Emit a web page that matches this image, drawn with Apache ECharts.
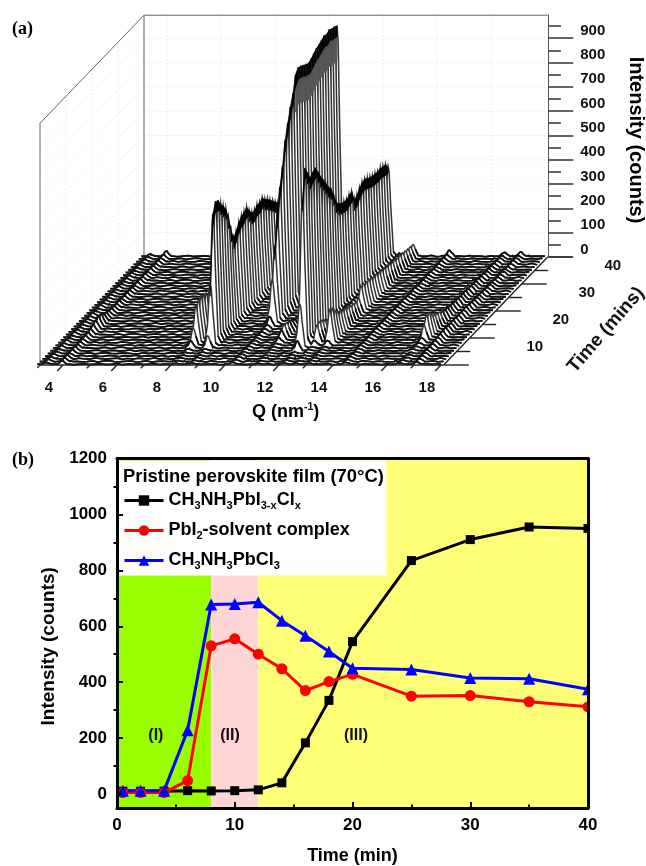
<!DOCTYPE html>
<html><head><meta charset="utf-8">
<style>html,body{margin:0;padding:0;background:#fff}#c{width:646px;height:866px}#c canvas{filter:blur(0.45px)}</style>
<script src="https://cdn.jsdelivr.net/npm/echarts@6/dist/echarts.min.js"></script>
</head><body><div id="c"></div>
<script>
// ---------- panel (b) data ----------
const timeB = [0.5,2,4,6,8,10,12,14,16,18,20,25,30,35,40];
const perovskite = [10,10,10,12,11,12,15,40,183,335,545,835,910,955,950];
const pbi2Complex = [5,5,5,48,530,555,500,448,370,402,428,350,352,330,312];
const pbcl3 = [12,12,12,228,678,680,686,620,566,510,450,445,415,412,375];
const yTicksB = [0,200,400,600,800,1000,1200];
const yMinorB = [100,300,500,700,900,1100];
const phaseLabels = ['(I)','(II)','(III)'];
const phaseLabelX = [3.3,9.6,20.3];
const phaseEdges = [0,8,12,40];
// ---------- panel (a) data: one row per minute, intensity at each ridge ----------
const rowTimes = [40,39,38,37,36,35,34,33,32,31,30,29,28,27,26,25,24,23,22,21,20,19,18,17,16,15,14,13,12,11,10,9,8,7,6,5,4,3,2,1,0];
const ridgeQ = [3.37,3.96,8.15,8.78,10.3,11.22,12.19,12.63,13.11,14.45,16.5,17.1];
const ridgeL0=[8,9,8,10,9,8,10,9,11,9,8,10,9,8,9,10,8,9,11,9,8,10,9,8,9,10,9,8,10,9,8,9,10,9,8,9,10,8,9,10,9];
const ridgeL1=[14,15,16,14,15,16,15,14,16,17,18,22,28,36,40,38,30,24,20,18,16,15,16,15,14,15,16,15,14,15,16,15,17,15,16,15,14,15,16,17,20];
const ridgeR0=[4,4,5,4,5,8,30,70,150,165,170,165,160,150,140,130,125,120,120,115,115,110,110,105,105,100,100,100,95,95,90,90,90,85,85,80,80,80,75,75,70];
const ridgeR1=[5,5,6,5,6,8,50,250,530,572,565,540,520,497,450,385,345,360,385,400,405,415,390,370,368,380,378,387,370,360,345,330,315,300,300,310,310,305,300,305,300];
const ridgeR2=[8,8,9,8,8,9,8,9,9,10,10,11,13,18,40,180,300,420,530,605,700,760,815,860,925,945,940,932,925,918,925,935,945,950,957,965,960,968,960,958,950];
const ridgeS1=[4,4,5,4,5,5,6,8,20,40,52,50,44,38,30,25,22,20,18,20,18,16,18,15,16,14,15,16,14,15,14,15,13,14,15,13,14,15,13,14,12];
const ridgeR3=[6,6,5,6,6,40,180,600,720,690,658,670,677,650,620,595,570,545,525,490,449,430,420,415,412,420,424,380,385,405,416,420,412,405,400,398,395,398,394,391,370];
const ridgeS2=[4,4,5,4,4,5,6,20,70,75,70,60,50,45,40,35,30,28,26,25,24,22,22,20,20,18,18,17,16,16,15,15,15,14,14,13,13,12,12,12,11];
const ridgeR4=[5,5,5,5,6,6,6,20,135,130,110,95,85,80,75,70,65,60,55,60,100,100,95,95,90,85,85,80,78,75,72,70,66,64,60,60,58,55,52,50,48];
const ridgeM=[8,9,10,9,8,10,12,11,10,12,13,12,14,13,15,14,13,15,14,16,15,14,13,15,14,13,12,14,13,12,14,13,12,13,14,12,13,14,15,18,25];
const ridgeS3=[5,6,5,6,5,7,8,10,20,60,90,90,72,60,55,48,42,36,32,30,28,26,26,25,24,24,22,22,20,20,20,18,18,16,16,15,15,14,15,14,16];
const ridgeRR=[10,12,13,14,15,16,18,20,22,24,26,28,26,24,25,26,24,25,23,25,24,22,20,19,18,18,17,16,16,15,15,14,14,15,14,13,14,16,15,14,18];
const ridges=[ridgeL0,ridgeL1,ridgeR0,ridgeR1,ridgeR2,ridgeS1,ridgeR3,ridgeS2,ridgeR4,ridgeM,ridgeS3,ridgeRR];
const peakDq=[-0.32,-0.2,-0.1,-0.03,0,0.04,0.1,0.2,0.32];
const peakF=[0,0.04,0.35,0.92,1,0.93,0.55,0.05,0];
const qGrid=[3.2,3.4,3.6,3.8,4,4.2,4.4,4.6,4.8,5,5.2,5.4,5.6,5.8,6,6.2,6.4,6.6,6.8,7,7.2,7.4,7.6,7.8,8,8.2,8.4,8.6,8.8,9,9.2,9.4,9.6,9.8,10,10.2,10.4,10.6,10.8,11,11.2,11.4,11.6,11.8,12,12.2,12.4,12.6,12.8,13,13.2,13.4,13.6,13.8,14,14.2,14.4,14.6,14.8,15,15.2,15.4,15.6,15.8,16,16.2,16.4,16.6,16.8,17,17.2,17.4,17.6,17.8,18];
const floorA=[3,1,5,2,6,3,1,4,6,2,4,5,2,3,7,1,5,3,6,2,4,6,2,4,1,5,3,7,2,5,3,4,6,1,4,6,2,5,2,3,7,3,5,1,6,4,2,6,3,2,4,5,3,7,1,5,2,6,4,2,6,3,4,1,5,3,7,2,5,4,2,6,3,4,3];
const floorB=[2,5,1,4,3,6,4,2,3,6,1,5,7,3,2,4,6,2,3,6,1,4,5,3,7,2,5,2,4,6,1,6,3,2,5,3,4,1,7,5,2,3,6,2,4,6,3,1,5,4,2,7,3,5,2,6,3,4,1,6,4,2,5,3,2,7,4,3,6,1,5,3,6,2,4];
const floorC=[5,3,6,1,4,2,6,3,2,7,4,2,4,6,1,5,2,6,4,3,7,2,5,1,6,3,4,2,6,1,5,3,2,7,4,2,5,6,3,1,4,6,2,5,3,1,7,4,5,2,6,2,3,4,6,1,5,3,4,7,2,5,2,6,3,1,4,6,3,2,5,4,2,7,1];
const floorD=[2,6,3,5,1,4,7,2,5,3,2,6,4,1,5,3,7,2,5,4,2,6,1,4,3,6,2,5,3,2,7,1,5,4,3,4,6,2,6,2,3,5,1,7,4,3,5,2,4,6,3,2,6,1,5,4,7,2,3,5,4,1,6,3,2,5,2,6,4,3,7,1,4,5,2];
const floorE=[4,1,3,6,5,2,3,6,1,4,7,3,2,5,4,2,1,6,3,5,3,2,7,5,4,1,6,3,2,4,6,4,1,5,7,2,3,4,5,6,2,4,2,6,1,5,3,7,2,4,2,3,6,4,5,2,1,5,7,3,2,6,3,4,4,6,1,2,5,7,3,2,5,3,6];
const floors=[floorA,floorB,floorC,floorD,floorE];
const qTicks=[4,5,6,7,8,9,10,11,12,13,14,15,16,17,18];
const qLabels=[4,6,8,10,12,14,16,18];
const timeTicks=[0,5,10,15,20,25,30,35,40];
const timeLabels=[10,20,30,40];
const intensityTicks=[0,100,200,300,400,500,600,700,800,900];
const intensityMinor=[50,150,250,350,450,550,650,750,850,950];

// Oblique projection of (Q, time, intensity) onto the hidden axes of panel (a)
const Qmin=3.15,Qmax=18.1,Imax=995,Tmax=40;
const kx=2.6/27,ky=2.7/0.243;
const proj=(q,t,i)=>[q+t*kx,i+t*ky];
function shape(d){
  if(d<=peakDq[0]||d>=peakDq[peakDq.length-1])return 0;
  for(let k=1;k<peakDq.length;k++){ if(d<=peakDq[k]){const a=(d-peakDq[k-1])/(peakDq[k]-peakDq[k-1]);return peakF[k-1]+a*(peakF[k]-peakF[k-1]);}}
  return 0;
}
function buildRow(t){
  const fl=floors[t%floors.length];
  const pts=new Map();
  qGrid.forEach((q,n)=>pts.set(q,fl[n]));
  ridgeQ.forEach(q0=>peakDq.forEach(d=>{const q=+(q0+d).toFixed(3);if(!pts.has(q))pts.set(q,3);}));
  const qs=[...pts.keys()].sort((a,b)=>a-b);
  return qs.map(q=>{let v=pts.get(q);ridgeQ.forEach((q0,r)=>{v+=ridges[r][t]*shape(q-q0);});return [q,v];});
}
const rows=rowTimes.map(buildRow);
function rowItem(params,api){
  const idx=params.dataIndex,t=rowTimes[idx],row=rows[idx];
  const c=(q,tt,i)=>api.coord(proj(q,tt,i));
  const line=row.map(p=>c(p[0],t,p[1]));
  const poly=[c(Qmin,t,0)].concat(line,[c(Qmax,t,0)]);
  const children=[
    {type:'polygon',shape:{points:poly},style:{fill:'#fff',stroke:null}},
    {type:'polyline',shape:{points:line},style:{fill:null,stroke:'#333',lineWidth:1.5}}
  ];
  // low parts of the row: heavier stroke, which gives the dark floor hatch
  let run=[];
  row.forEach((p,n)=>{ if(p[1]<45){run.push(line[n]);} else { if(run.length>1)children.push({type:'polyline',shape:{points:run},style:{fill:null,stroke:'#111',lineWidth:1.8}}); run=[]; } });
  if(run.length>1)children.push({type:'polyline',shape:{points:run},style:{fill:null,stroke:'#111',lineWidth:1.8}});
  // dark crest band along the tall ridges
  if(t<Tmax) ridgeQ.forEach((q0,r)=>{
    const h=ridges[r][t],hn=ridges[r][t+1];
    const quad=(drop,fill)=>({type:'polygon',shape:{points:[c(q0,t,h),c(q0,t+1,hn),c(q0,t+1,Math.max(hn-drop,h-drop)),c(q0,t,h-drop)]},style:{fill,stroke:fill,lineWidth:0.6}});
    if(h>=880&&hn>=880)children.push(quad(150,'#555'));
    if(h>=200&&hn>=200)children.push(quad(h>=880?50:45,'#000'));
  });
  return {type:'group',children};
}
// line segments: q1,t1,i1,q2,t2,i2
const wallGrid=[],wallEdges=[],frontEdges=[];
for(let i=100;i<=900;i+=100){wallGrid.push([Qmin,Tmax,i,Qmax,Tmax,i]);wallGrid.push([Qmin,0,i,Qmin,Tmax,i]);}
qLabels.forEach(q=>wallGrid.push([q,Tmax,0,q,Tmax,Imax]));
timeLabels.forEach(t=>wallGrid.push([Qmin,t,0,Qmin,t,Imax]));
wallEdges.push([Qmin,0,0,Qmin,0,Imax],[Qmin,0,Imax,Qmin,Tmax,Imax],[Qmin,Tmax,Imax,Qmax,Tmax,Imax],[Qmin,Tmax,0,Qmin,Tmax,Imax]);
frontEdges.push([Qmin,0,0,Qmax,0,0],[Qmin,0,0,Qmin,Tmax,0],[Qmax,0,0,Qmax,Tmax,0],[Qmin,0,0,Qmin,-1,0]);
qTicks.forEach(q=>{const long=q%2===0;frontEdges.push([q,0,0,q,long?-2.2:-1.2,0]);});
timeTicks.forEach(t=>{const long=t%10===0;frontEdges.push([Qmax,t,0,Qmax+(long?0.93:0.5),t,0]);});
function segSeries(segs,color,width,dash,z){
  return {type:'custom',coordinateSystem:'cartesian2d',xAxisIndex:0,yAxisIndex:0,clip:false,silent:true,z,
    encode:{x:0,y:1},data:segs.map(s=>proj(s[0],s[1],s[2])),
    renderItem(params,api){const s=segs[params.dataIndex];
      const a=api.coord(proj(s[0],s[1],s[2])),b=api.coord(proj(s[3],s[4],s[5]));
      return {type:'line',shape:{x1:a[0],y1:a[1],x2:b[0],y2:b[1]},style:{stroke:color,lineWidth:width,lineDash:dash||null}};}};
}
const textA=[];
qLabels.forEach(q=>textA.push({p:proj(q-0.52,0,-95),s:String(q)}));
timeLabels.forEach(t=>textA.push({p:proj(Qmax+2.41,t,-37),s:String(t)}));
const FONT='"Liberation Sans",Arial,sans-serif';
const textSeriesA={type:'custom',coordinateSystem:'cartesian2d',xAxisIndex:0,yAxisIndex:0,clip:false,silent:true,z:8,
  encode:{x:0,y:1},data:textA.map(d=>d.p),
  renderItem(params,api){const d=textA[params.dataIndex],c=api.coord(d.p);
    return {type:'text',x:c[0],y:c[1],style:{text:d.s,fill:'#111',font:'bold 15px '+FONT,align:'center',verticalAlign:'middle'}};}};
const phaseSeries={type:'custom',coordinateSystem:'cartesian2d',xAxisIndex:2,yAxisIndex:3,clip:false,silent:true,z:3,
  encode:{x:0,y:1},data:phaseLabelX.map(x=>[x,210]),
  renderItem(params,api){const c=api.coord([api.value(0),api.value(1)]);
    return {type:'text',x:c[0],y:c[1],style:{text:phaseLabels[params.dataIndex],fill:'#111',font:'bold 16px '+FONT,align:'center',verticalAlign:'middle'}};}};

const phaseColors=['#99ff00','#ffd6d6','#ffff77'];
const legendNames={'CH3NH3PbI3-xClx':'CH{s|3}NH{s|3}PbI{s|3-x}Cl{s|x}','PbI2-solvent complex':'PbI{s|2}-solvent complex','CH3NH3PbCl3':'CH{s|3}NH{s|3}PbCl{s|3}'};
const big={color:'#000',fontFamily:FONT,fontWeight:'bold'};
function lineSeries(name,data,color,symbol,size,extra){
  return Object.assign({name,type:'line',xAxisIndex:2,yAxisIndex:3,data:timeB.map((t,i)=>[t,data[i]]),
    symbol,symbolSize:size,showSymbol:true,lineStyle:{color,width:3},itemStyle:{color},clip:false,z:4},extra||{});
}
const option={
  animation:false,backgroundColor:'#fff',
  grid:[
    {left:40,top:5,width:560,height:360},
    {left:548,top:15,width:1,height:242},
    {left:117,top:458.5,width:471,height:349.5}
  ],
  xAxis:[
    {gridIndex:0,type:'value',min:Qmin,max:Qmin+560/27,show:false},
    {gridIndex:1,type:'value',min:0,max:1,show:false},
    {gridIndex:2,type:'value',min:0,max:40,interval:10,name:'Time (min)',nameLocation:'middle',nameGap:39,
      nameTextStyle:{...big,fontSize:18},z:5,
      axisLine:{show:true,onZero:false,lineStyle:{color:'#000',width:3}},
      axisTick:{inside:true,length:6,lineStyle:{color:'#000',width:2}},
      minorTick:{show:true,splitNumber:2,length:3.5,lineStyle:{color:'#000',width:2}},
      axisLabel:{...big,fontSize:17,margin:9},splitLine:{show:false}},
    {gridIndex:2,type:'value',position:'top',min:0,max:40,z:5,axisLine:{show:true,onZero:false,lineStyle:{color:'#000',width:3}},axisTick:{show:false},axisLabel:{show:false},splitLine:{show:false}}
  ],
  yAxis:[
    {gridIndex:0,type:'value',min:0,max:360/0.243,show:false},
    {gridIndex:1,type:'value',position:'right',min:0,max:Imax,name:'Intensity (counts)',nameLocation:'middle',nameRotate:-90,nameGap:77,
      nameTextStyle:{...big,fontSize:20,padding:[0,0,0,8]},z:6,
      axisLine:{show:true,onZero:false,lineStyle:{color:'#555',width:1}},
      axisTick:{length:25,customValues:intensityTicks,lineStyle:{color:'#333',width:1.5}},
      axisLabel:{customValues:intensityTicks,...big,fontSize:15,margin:32,verticalAlign:'bottom',color:'#111',formatter:v=>String(v)},splitLine:{show:false}},
    {gridIndex:1,type:'value',position:'right',min:0,max:Imax,axisLine:{show:false},
      axisTick:{length:13,customValues:intensityMinor,lineStyle:{color:'#333',width:1.5}},axisLabel:{show:false},splitLine:{show:false}},
    {gridIndex:2,type:'value',min:-50,max:1200,z:5,name:'Intensity (counts)',nameLocation:'middle',nameRotate:90,nameGap:55,
      nameTextStyle:{...big,fontSize:19,padding:[0,26,0,0]},
      axisLine:{show:true,onZero:false,lineStyle:{color:'#000',width:3}},
      axisTick:{inside:true,length:6,customValues:yTicksB,lineStyle:{color:'#000',width:2}},
      axisLabel:{customValues:yTicksB,...big,fontSize:17,margin:10,formatter:v=>String(v)},splitLine:{show:false}},
    {gridIndex:2,type:'value',min:-50,max:1200,z:5,axisLine:{show:false},
      axisTick:{inside:true,length:3.5,customValues:yMinorB,lineStyle:{color:'#000',width:2}},axisLabel:{show:false},splitLine:{show:false}},
    {gridIndex:2,type:'value',position:'right',min:-50,max:1200,z:5,axisLine:{show:true,onZero:false,lineStyle:{color:'#000',width:3}},axisTick:{show:false},axisLabel:{show:false},splitLine:{show:false}}
  ],
  legend:{show:true,left:118,top:485,orient:'vertical',itemWidth:39,itemHeight:13,itemGap:9,z:12,
    data:Object.keys(legendNames),selectedMode:false,lineStyle:{width:3},
    formatter:n=>legendNames[n],
    textStyle:{...big,fontSize:18,lineHeight:21,rich:{s:{...big,fontSize:11,lineHeight:21,verticalAlign:'bottom',padding:[9,0,0,0]}}}},
  title:[
    {text:'Pristine perovskite film (70°C)',left:123,top:468,padding:0,z:12,textStyle:{...big,fontSize:18.4}},
    {text:'(a)',left:12,top:20,padding:0,textStyle:{color:'#000',fontFamily:'"Liberation Serif",serif',fontWeight:'bold',fontSize:18}},
    {text:'(b)',left:12,top:451,padding:0,textStyle:{color:'#000',fontFamily:'"Liberation Serif",serif',fontWeight:'bold',fontSize:18}},
    {text:'Q (nm{s|-1}{b|)}',left:252,top:402,padding:0,textStyle:{...big,fontSize:18,rich:{s:{...big,fontSize:10.5,lineHeight:20,verticalAlign:'top'},b:{...big,fontSize:18}}}}
  ],
  graphic:[
    {type:'rect',z:5,silent:true,shape:{x:118.5,y:460.5,width:268,height:115},style:{fill:'#fff'}},
    {type:'rect',z:6,silent:true,shape:{x:590,y:510,width:14,height:210},style:{fill:'#fff'}},
    {type:'text',z:8,silent:true,x:606,y:330,rotation:49*Math.PI/180,style:{text:'Time (mins)',fill:'#111',font:'bold 19px '+FONT,align:'center',verticalAlign:'middle'}}
  ],
  series:[
    segSeries(wallGrid,'#eeeeee',1,[2,2],1),
    segSeries(wallEdges,'#666',1,null,1),
    {type:'custom',coordinateSystem:'cartesian2d',xAxisIndex:0,yAxisIndex:0,clip:false,silent:true,z:2,
      encode:{x:0,y:1},data:rowTimes.map(t=>proj(Qmin,t,0)),renderItem:rowItem},
    segSeries(frontEdges,'#222',1.4,null,3),
    textSeriesA,
    lineSeries('CH3NH3PbI3-xClx',perovskite,'#000','rect',9,{
      markArea:{silent:true,data:phaseColors.map((col,i)=>[{xAxis:phaseEdges[i],itemStyle:{color:col,opacity:1}},{xAxis:phaseEdges[i+1]}])}}),
    lineSeries('PbI2-solvent complex',pbi2Complex,'#ff0000','circle',11),
    lineSeries('CH3NH3PbCl3',pbcl3,'#0000ff','triangle',12),
    phaseSeries
  ]
};
echarts.init(document.getElementById('c')).setOption(option);
</script></body></html>
